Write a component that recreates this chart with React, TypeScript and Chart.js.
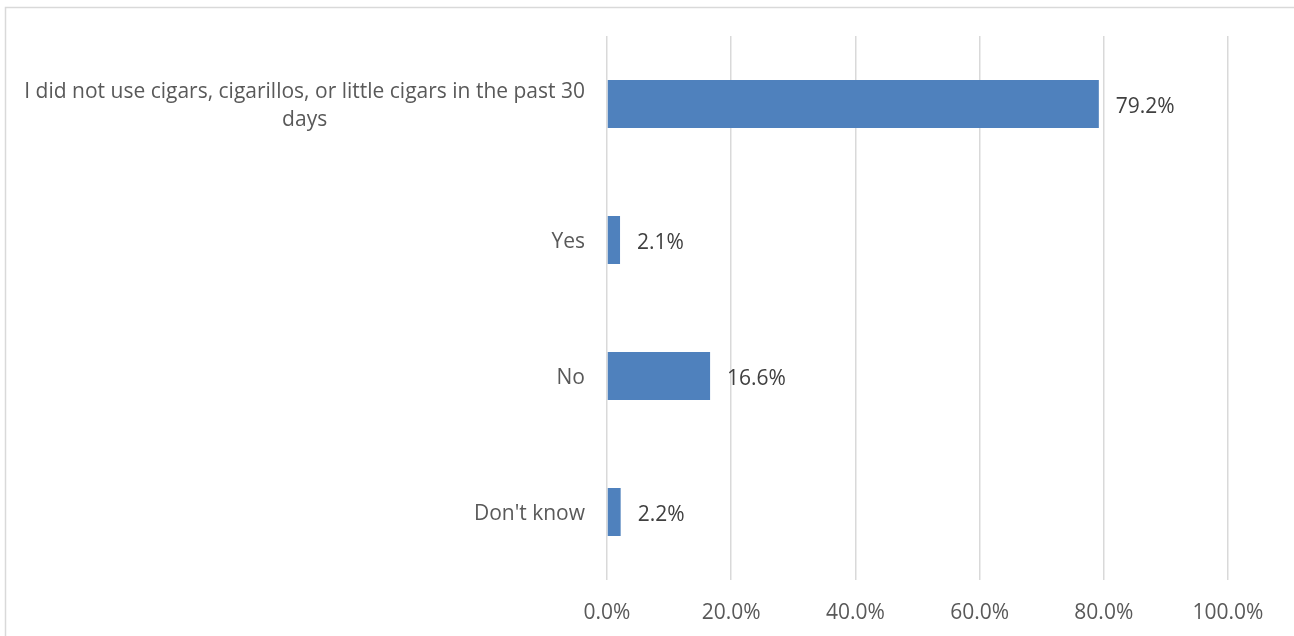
import React, { useEffect, useRef } from "react";
import { Chart, registerables } from "chart.js";

Chart.register(...registerables);

const categories: string[][] = [
  ["I did not use cigars, cigarillos, or little cigars in the past 30", "days"],
  ["Yes"],
  ["No"],
  ["Don't know"],
];
const values: number[] = [79.2, 2.1, 16.6, 2.2];
const xTicks: number[] = [0, 20, 40, 60, 80, 100];

const FONT = "'Open Sans', 'DejaVu Sans', sans-serif";

const framePlugin = {
  id: "frame",
  beforeDraw(chart: any) {
    const ctx = chart.ctx;
    ctx.save();
    ctx.fillStyle = "#ffffff";
    ctx.fillRect(0, 0, chart.width, chart.height);
    ctx.strokeStyle = "#d9d9d9";
    ctx.lineWidth = 1.5;
    ctx.beginPath();
    ctx.moveTo(5.5, chart.height);
    ctx.lineTo(5.5, 7.5);
    ctx.lineTo(chart.width, 7.5);
    ctx.stroke();
    ctx.restore();
  },
};

const labelsPlugin = {
  id: "customLabels",
  afterDatasetsDraw(chart: any) {
    const ctx = chart.ctx;
    const yScale = chart.scales.y;
    const meta = chart.getDatasetMeta(0);
    ctx.save();
    // category labels
    ctx.font = `21px ${FONT}`;
    ctx.fillStyle = "#595959";
    ctx.textBaseline = "middle";
    const right = yScale.right - 22;
    const lineH = 28;
    categories.forEach((lines, i) => {
      const yc = yScale.getPixelForTick(i) + 2;
      const widths = lines.map((l) => ctx.measureText(l).width);
      const widest = Math.max(...widths);
      const cx = right - widest / 2;
      lines.forEach((l, j) => {
        const y = yc + (j - (lines.length - 1) / 2) * lineH;
        if (lines.length === 1) {
          ctx.textAlign = "right";
          ctx.fillText(l, right, y);
        } else {
          ctx.textAlign = "center";
          ctx.fillText(l, cx, y);
        }
      });
    });
    // data labels
    ctx.font = `21px ${FONT}`;
    ctx.fillStyle = "#404040";
    ctx.textAlign = "left";
    meta.data.forEach((bar: any, i: number) => {
      ctx.fillText(values[i].toFixed(1) + "%", bar.x + 17, bar.y + 3);
    });
    ctx.restore();
  },
};

export default function App() {
  const ref = useRef<HTMLCanvasElement | null>(null);
  useEffect(() => {
    if (!ref.current) return;
    const chart = new Chart(ref.current, {
      type: "bar",
      data: {
        labels: categories.map((c) => c.join(" ")),
        datasets: [
          {
            data: values,
            backgroundColor: "#4f81bd",
            borderWidth: 0,
            categoryPercentage: 1,
            barPercentage: 0.353,
          },
        ],
      },
      options: {
        indexAxis: "y",
        animation: false,
        responsive: false,
        layout: { padding: { top: 36, right: 66, left: 0, bottom: 0 } },
        plugins: {
          legend: { display: false },
          tooltip: { enabled: false },
        },
        scales: {
          x: {
            min: 0,
            max: 100,
            afterBuildTicks: (s: any) => {
              s.ticks = xTicks.map((v) => ({ value: v }));
            },
            afterFit: (s: any) => {
              s.height = 56;
            },
            border: { display: false },
            grid: { color: "#d9d9d9", lineWidth: 1.5, drawTicks: false },
            ticks: {
              padding: 20,
              color: "#595959",
              font: { family: FONT, size: 21 },
              callback: (v: any) => Number(v).toFixed(1) + "%",
            },
          },
          y: {
            afterFit: (s: any) => {
              s.width = 607;
            },
            border: { display: false },
            grid: { display: false, drawTicks: false },
            ticks: { display: false },
          },
        },
      },
      plugins: [framePlugin, labelsPlugin],
    });
    return () => chart.destroy();
  }, []);
  return (
    <canvas
      ref={ref}
      width={1294}
      height={636}
      style={{ position: "fixed", left: 0, top: 0, width: 1294, height: 636 }}
    />
  );
}
